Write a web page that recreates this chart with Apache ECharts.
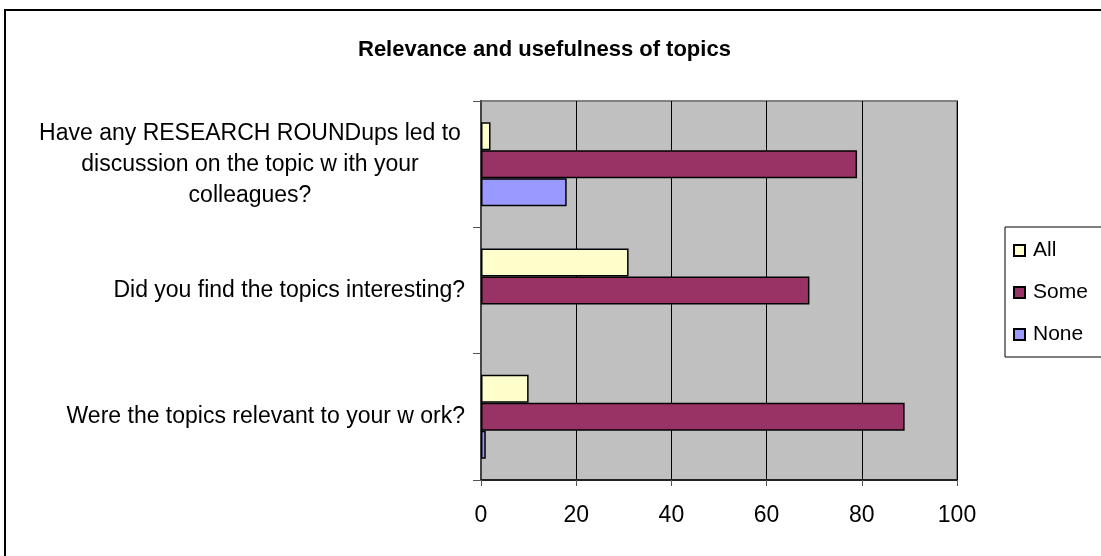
<!DOCTYPE html>
<html><head><meta charset="utf-8">
<script src="https://cdn.jsdelivr.net/npm/echarts@6/dist/echarts.min.js"></script>
<style>
html,body{margin:0;padding:0;background:#fff;overflow:hidden}
#c{width:1101px;height:556px;position:absolute;left:0;top:0}
#frame{position:absolute;left:4px;top:9px;width:1110px;height:560px;border:2px solid #000;box-sizing:border-box;pointer-events:none}
</style></head>
<body>
<div id="c"></div>
<div id="frame"></div>
<script>
const categories = [
  "Were the topics relevant to your w ork?",
  "Did you find the topics interesting?",
  "Have any RESEARCH ROUNDups led to\ndiscussion on the topic w ith your\ncolleagues?"
];
const seriesNames = ["All", "Some", "None"];
const allValues = [10, 31, 2];
const someValues = [89, 69, 79];
const noneValues = [1, 0, 18];
const xTicks = [0, 20, 40, 60, 80, 100];

const colors = {All: "#FFFFCC", Some: "#993366", None: "#9999FF"};
const values = {All: allValues, Some: someValues, None: noneValues};
const font = "Liberation Sans, Arial, sans-serif";

const chart = echarts.init(document.getElementById('c'));
chart.setOption({
  animation: false,
  title: {
    text: "Relevance and usefulness of topics",
    left: 353, top: 34,
    textStyle: {fontFamily: font, fontSize: 22, fontWeight: 'bold', color: '#000'}
  },
  legend: {
    orient: 'vertical',
    left: 1005, top: 227,
    data: seriesNames,
    icon: 'rect',
    itemWidth: 11, itemHeight: 11,
    itemGap: 21,
    padding: [13, 30, 12, 8],
    borderColor: '#000', borderWidth: 1,
    backgroundColor: '#fff',
    textStyle: {fontFamily: font, fontSize: 21, color: '#000', padding: [0,0,0,3]}
  },
  grid: {
    left: 481, right: 144, top: 101, bottom: 76,
    show: true, backgroundColor: '#C0C0C0', borderColor: '#808080', borderWidth: 2
  },
  xAxis: {
    type: 'value', min: xTicks[0], max: xTicks[xTicks.length-1], interval: xTicks[1]-xTicks[0],
    axisLine: {show: true, lineStyle: {color: '#222', width: 2}},
    axisTick: {show: true, length: 6, lineStyle: {color: '#555', width: 1}},
    splitLine: {show: true, lineStyle: {color: '#000', width: 1}},
    axisLabel: {fontFamily: font, fontSize: 23, color: '#000', margin: 24}
  },
  yAxis: {
    type: 'category', data: categories,
    axisLine: {show: true, lineStyle: {color: '#444', width: 2}},
    axisTick: {show: true, length: 8, lineStyle: {color: '#555', width: 1}},
    axisLabel: {
      fontFamily: font, fontSize: 23, color: '#000', margin: 16, lineHeight: 31,
      formatter: function (v) {
        if (v.indexOf('\n') >= 0) {
          return v.split('\n').map(s => '{c|' + s + '}').join('\n');
        }
        return v;
      },
      rich: {c: {width: 430, align: 'center', fontFamily: font, fontSize: 23, lineHeight: 31, color: '#000'}}
    }
  },
  series: seriesNames.map(n => ({
    name: n, type: 'bar',
    data: values[n].map(v => v === 0 ? {value: v, itemStyle: {borderWidth: 0}} : v),
    barWidth: 28, barGap: '0%',
    itemStyle: {color: colors[n], borderColor: '#000', borderWidth: 1.5}
  }))
});
</script>
</body></html>
